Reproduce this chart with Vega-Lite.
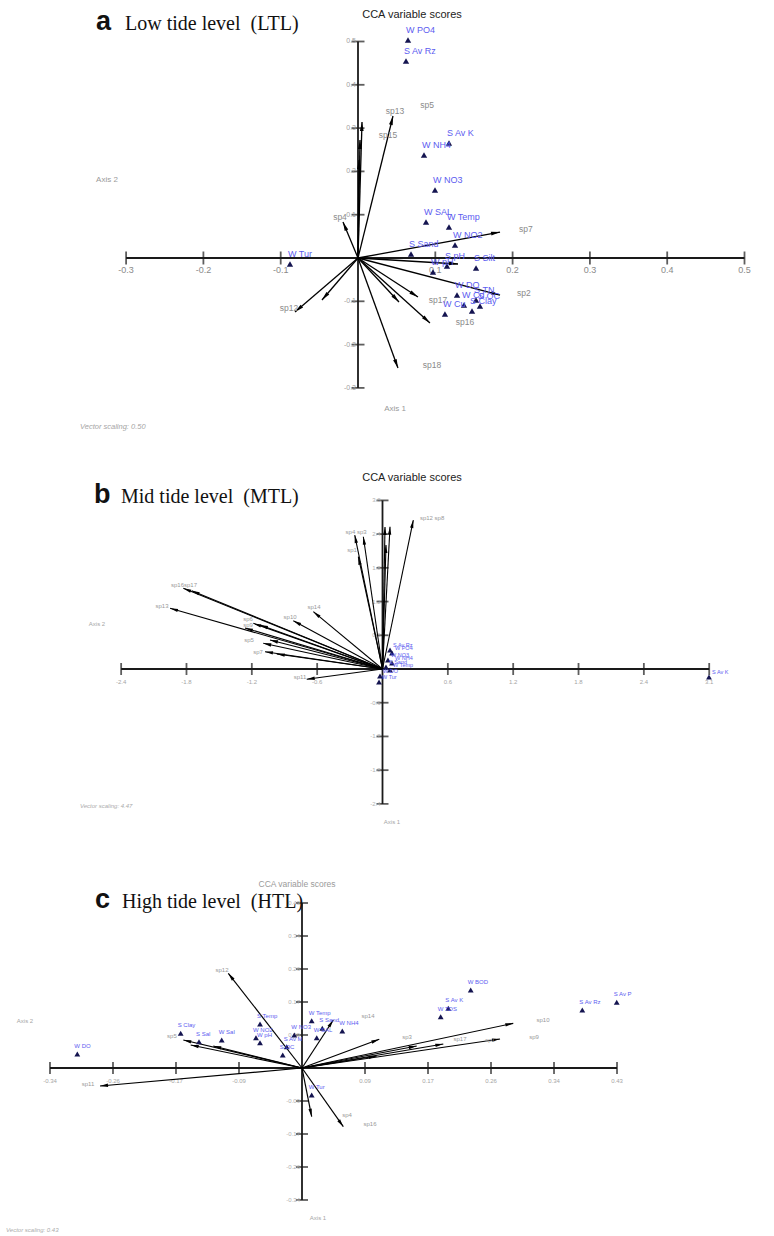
{
  "$schema": "https://vega.github.io/schema/vega-lite/v6.json",
  "padding": 0,
  "spacing": 0,
  "bounds": "flush",
  "background": "white",
  "config": {"view": {"stroke": null}, "text": {"font": "Liberation Sans"}},
  "datasets": {
    "a_xt": [{"x":-0.3,"y":0,"lab":"-0.3"},{"x":-0.2,"y":0,"lab":"-0.2"},{"x":-0.1,"y":0,"lab":"-0.1"},{"x":0.1,"y":0,"lab":"0.1"},{"x":0.2,"y":0,"lab":"0.2"},{"x":0.3,"y":0,"lab":"0.3"},{"x":0.4,"y":0,"lab":"0.4"},{"x":0.5,"y":0,"lab":"0.5"}],
    "a_yt": [{"x":0,"y":-0.3,"lab":"-0.3"},{"x":0,"y":-0.2,"lab":"-0.2"},{"x":0,"y":-0.1,"lab":"-0.1"},{"x":0,"y":0.1,"lab":"0.1"},{"x":0,"y":0.2,"lab":"0.2"},{"x":0,"y":0.3,"lab":"0.3"},{"x":0,"y":0.4,"lab":"0.4"},{"x":0,"y":0.5,"lab":"0.5"}],
    "a_pts": [
      {"n":"W PO4","x":0.0647,"y":0.5035},{"n":"S Av Rz","x":0.0621,"y":0.455},{"n":"S Av K","x":0.1177,"y":0.2656},
      {"n":"W NH4","x":0.0854,"y":0.2379},{"n":"W NO3","x":0.0996,"y":0.157},{"n":"W SAL","x":0.088,"y":0.0831},
      {"n":"W Temp","x":0.1177,"y":0.0716},{"n":"W NO2","x":0.1255,"y":0.03},{"n":"S Sand","x":0.0686,"y":0.0092},
      {"n":"W Tur","x":-0.088,"y":-0.0139},{"n":"S pH","x":0.1151,"y":-0.0185},{"n":"W pH","x":0.097,"y":-0.0323},
      {"n":"S Silt","x":0.1527,"y":-0.0231},{"n":"W DO","x":0.1281,"y":-0.0855},{"n":"W Cd","x":0.1371,"y":-0.1085},
      {"n":"S Clay","x":0.1475,"y":-0.1224},{"n":"S OC","x":0.1578,"y":-0.1109},{"n":"S TN","x":0.1527,"y":-0.097},
      {"n":"W Cu","x":0.1125,"y":-0.1293}],
    "a_sp": [
      {"s":"sp13","x":0.0453,"y":0.328},{"s":"sp5","x":0.0052,"y":0.314},{"s":"sp15","x":0.0026,"y":0.2725},
      {"s":"sp6","x":0.0013,"y":0.2263},{"s":"sp4","x":-0.0194,"y":0.0831},{"s":"sp7","x":0.1837,"y":0.06},
      {"s":"sp9","x":0.1294,"y":-0.0139},{"s":"sp2","x":0.1837,"y":-0.0855},{"s":"sp17","x":0.0776,"y":-0.0901},
      {"s":"sp10","x":0.053,"y":-0.1016},{"s":"sp16","x":0.0931,"y":-0.1501},{"s":"sp18","x":0.0517,"y":-0.254},
      {"s":"sp12","x":-0.0815,"y":-0.1247},{"s":"sp11","x":-0.0466,"y":-0.097}],
    "a_lab": [
      {"s":"sp13","x":0.0479,"y":0.3395},{"s":"sp5","x":0.0893,"y":0.3533},{"s":"sp15","x":0.0388,"y":0.2841},
      {"s":"sp4","x":-0.0233,"y":0.0947},{"s":"sp7","x":0.2173,"y":0.067},{"s":"sp2","x":0.2147,"y":-0.0808},
      {"s":"sp17","x":0.1035,"y":-0.097},{"s":"sp16","x":0.1384,"y":-0.1478},{"s":"sp18","x":0.0957,"y":-0.2471},
      {"s":"sp12","x":-0.0893,"y":-0.1155}],
    "b_xt": [{"x":-2.4,"y":0,"lab":"-2.4"},{"x":-1.8,"y":0,"lab":"-1.8"},{"x":-1.2,"y":0,"lab":"-1.2"},{"x":-0.6,"y":0,"lab":"-0.6"},{"x":0.6,"y":0,"lab":"0.6"},{"x":1.2,"y":0,"lab":"1.2"},{"x":1.8,"y":0,"lab":"1.8"},{"x":2.4,"y":0,"lab":"2.4"},{"x":3.0,"y":0,"lab":"3.1"}],
    "b_yt": [{"x":0,"y":-2.4,"lab":"-2.4"},{"x":0,"y":-1.8,"lab":"-1.8"},{"x":0,"y":-1.2,"lab":"-1.2"},{"x":0,"y":-0.6,"lab":"-0.6"},{"x":0,"y":0.6,"lab":"0.6"},{"x":0,"y":1.2,"lab":"1.2"},{"x":0,"y":1.8,"lab":"1.8"},{"x":0,"y":2.4,"lab":"2.4"},{"x":0,"y":3.0,"lab":"3.0"}],
    "b_pts": [
      {"n":"S Av K","x":2.998,"y":-0.142},{"n":"S Av Rz","x":0.069,"y":0.338},{"n":"W PO4","x":0.087,"y":0.285},
      {"n":"W NO3","x":0.05,"y":0.16},{"n":"W NH4","x":0.087,"y":0.107},{"n":"S Sand","x":0.032,"y":0.036},
      {"n":"W Temp","x":0.069,"y":-0.018},{"n":"W DO","x":-0.023,"y":-0.125},{"n":"W Tur","x":-0.032,"y":-0.231}],
    "b_sp": [
      {"s":"sp4","x":-0.255,"y":2.384},{"s":"sp3","x":-0.176,"y":2.354},{"s":"sp2","x":0.069,"y":2.532},
      {"s":"sp15","x":0.023,"y":2.527},{"s":"sp18","x":0.032,"y":2.206},{"s":"sp12","x":0.283,"y":2.651},
      {"s":"sp1","x":-0.222,"y":1.998},{"s":"sp16","x":-1.829,"y":1.436},{"s":"sp17","x":-1.752,"y":1.393},
      {"s":"sp13","x":-1.951,"y":1.08},{"s":"sp6","x":-1.186,"y":0.813},{"s":"sp9","x":-1.125,"y":0.783},
      {"s":"sp10","x":-0.819,"y":0.859},{"s":"sp14","x":-0.635,"y":1.02},{"s":"sp5","x":-1.095,"y":0.457},
      {"s":"sp7","x":-1.079,"y":0.308},{"s":"sp8","x":-0.971,"y":0.267},{"s":"sp11","x":-0.696,"y":-0.183},
      {"s":"sp19","x":-1.263,"y":0.73},{"s":"sp20","x":-1.033,"y":0.516}],
    "b_lab": [
      {"s":"sp4 sp3","x":-0.243,"y":2.443},{"s":"sp12  sp8","x":0.455,"y":2.687},{"s":"sp1","x":-0.28,"y":2.117},
      {"s":"sp16sp17","x":-1.823,"y":1.495},{"s":"sp13","x":-2.025,"y":1.121},{"s":"sp14","x":-0.629,"y":1.103},
      {"s":"sp6","x":-1.235,"y":0.89},{"s":"sp9","x":-1.235,"y":0.783},{"s":"sp10","x":-0.849,"y":0.925},
      {"s":"sp5","x":-1.226,"y":0.516},{"s":"sp7","x":-1.143,"y":0.302},{"s":"sp11","x":-0.758,"y":-0.142}],
    "c_xt": [{"x":-0.344,"y":0,"lab":"-0.34"},{"x":-0.258,"y":0,"lab":"-0.26"},{"x":-0.172,"y":0,"lab":"-0.17"},{"x":-0.086,"y":0,"lab":"-0.09"},{"x":0.086,"y":0,"lab":"0.09"},{"x":0.172,"y":0,"lab":"0.17"},{"x":0.258,"y":0,"lab":"0.26"},{"x":0.344,"y":0,"lab":"0.34"},{"x":0.43,"y":0,"lab":"0.43"}],
    "c_yt": [{"x":0,"y":-0.344,"lab":"-0.34"},{"x":0,"y":-0.258,"lab":"-0.26"},{"x":0,"y":-0.172,"lab":"-0.17"},{"x":0,"y":-0.086,"lab":"-0.09"},{"x":0,"y":0.086,"lab":"0.09"},{"x":0,"y":0.172,"lab":"0.17"},{"x":0,"y":0.258,"lab":"0.26"},{"x":0,"y":0.344,"lab":"0.34"},{"x":0,"y":0.43,"lab":"0.43"}],
    "c_pts": [
      {"n":"W DO","x":-0.3067,"y":0.0365},{"n":"S Clay","x":-0.1656,"y":0.0904},{"n":"S Sal","x":-0.1406,"y":0.0685},
      {"n":"W Sal","x":-0.1096,"y":0.073},{"n":"S Temp","x":-0.0573,"y":0.1147},{"n":"W NO2","x":-0.0628,"y":0.079},
      {"n":"W pH","x":-0.0573,"y":0.0659},{"n":"S OC","x":-0.0263,"y":0.0339},{"n":"S Av M","x":-0.0209,"y":0.0555},
      {"n":"W NO3","x":-0.0105,"y":0.086},{"n":"W Temp","x":0.0132,"y":0.1233},{"n":"W SAL","x":0.0201,"y":0.079},
      {"n":"S Sand","x":0.0277,"y":0.1035},{"n":"W NH4","x":0.055,"y":0.0964},{"n":"W Tur","x":0.0132,"y":-0.0704},
      {"n":"W BOD","x":0.2303,"y":0.2033},{"n":"S Av K","x":0.1997,"y":0.1556},{"n":"W TDS","x":0.1893,"y":0.1337},
      {"n":"S Av Rz","x":0.3826,"y":0.1512},{"n":"S Av P","x":0.4296,"y":0.1712}],
    "c_sp": [
      {"s":"sp11","x":-0.2757,"y":-0.0469},{"s":"sp5","x":-0.162,"y":0.073},{"s":"sp6","x":-0.1519,"y":0.0599},
      {"s":"sp7","x":-0.1211,"y":0.0573},{"s":"sp12","x":-0.1006,"y":0.2468},{"s":"sp14","x":0.0427,"y":0.1251},
      {"s":"sp3","x":0.1055,"y":0.0748},{"s":"sp10","x":0.2884,"y":0.1165},{"s":"sp9","x":0.2703,"y":0.0756},
      {"s":"sp17","x":0.1566,"y":0.0573},{"s":"sp1","x":0.1929,"y":0.0625},{"s":"sp2","x":0.102,"y":0.0313},
      {"s":"sp16","x":0.0564,"y":-0.153},{"s":"sp4","x":0.0132,"y":-0.1269}],
    "c_lab": [
      {"s":"sp11","x":-0.2921,"y":-0.0417},{"s":"sp5","x":-0.1775,"y":0.0834},{"s":"sp12","x":-0.1092,"y":0.2554},
      {"s":"sp14","x":0.0901,"y":0.1355},{"s":"sp3","x":0.1433,"y":0.0808},{"s":"sp10","x":0.329,"y":0.1251},
      {"s":"sp9","x":0.3167,"y":0.0808},{"s":"sp17","x":0.2157,"y":0.0756},{"s":"sp1","x":0.2566,"y":0.073},
      {"s":"sp16","x":0.0928,"y":-0.1459},{"s":"sp4","x":0.0614,"y":-0.1225}]
  },
  "vconcat": [
    {
      "width": 774, "height": 445,
      "encoding": {
        "x": {"field": "x", "type": "quantitative", "scale": {"domain": [-0.46313, 0.53816], "nice": false, "zero": false}, "axis": null},
        "y": {"field": "y", "type": "quantitative", "scale": {"domain": [-0.43187, 0.59584], "nice": false, "zero": false}, "axis": null}
      },
      "layer": [
        {"data": {"values": [{"x":-0.3,"x2":0.5,"y":0,"y2":0},{"x":0,"x2":0,"y":-0.3,"y2":0.5}]},
         "mark": {"type": "rule", "strokeWidth": 1.8, "color": "#1a1a1a"},
         "encoding": {"x2": {"field": "x2"}, "y2": {"field": "y2"}}},
        {"data": {"name": "a_xt"}, "mark": {"type": "tick", "orient": "vertical", "size": 13, "thickness": 1.8, "color": "#1a1a1a"}},
        {"data": {"name": "a_xt"}, "mark": {"type": "text", "dy": 12, "fontSize": 9, "color": "#8a8a8a"}, "encoding": {"text": {"field": "lab"}}},
        {"data": {"name": "a_yt"}, "mark": {"type": "tick", "orient": "horizontal", "size": 13, "thickness": 1.8, "color": "#1a1a1a"}},
        {"data": {"name": "a_yt"}, "mark": {"type": "text", "align": "right", "dx": -2, "fontSize": 7, "color": "#a0a0a0"}, "encoding": {"text": {"field": "lab"}}},
        {"data": {"name": "a_sp"}, "mark": {"type": "rule", "strokeWidth": 1.3, "color": "#000"}, "encoding": {"x2": {"datum": 0}, "y2": {"datum": 0}}},
        {"data": {"name": "a_sp"}, "transform": [{"calculate": "atan2(datum.x*773, datum.y*433)*180/PI", "as": "ang"}],
         "mark": {"type": "point", "shape": "M0,0L0.42,2L-0.42,2Z", "filled": true, "size": 81, "color": "#000", "opacity": 1},
         "encoding": {"angle": {"field": "ang", "type": "quantitative", "scale": null}}},
        {"data": {"name": "a_lab"}, "mark": {"type": "text", "fontSize": 8.5, "color": "#8a8a8a"}, "encoding": {"text": {"field": "s"}}},
        {"data": {"name": "a_pts"}, "mark": {"type": "point", "shape": "triangle-up", "filled": true, "size": 40, "color": "#141450", "opacity": 1}},
        {"data": {"name": "a_pts"}, "mark": {"type": "text", "align": "left", "dx": -2, "dy": -10, "fontSize": 9, "color": "#5c5cf0"}, "encoding": {"text": {"field": "n"}}},
        {"data": {"values": [{"t": "a", "x": -0.3389, "y": 0.5266}]}, "mark": {"type": "text", "align": "left", "baseline": "alphabetic", "fontSize": 27, "fontWeight": "bold", "color": "#111"}, "encoding": {"text": {"field": "t"}}},
        {"data": {"values": [{"t": "Low tide level\u00a0\u00a0(LTL)", "x": -0.3014, "y": 0.5266}]}, "mark": {"type": "text", "align": "left", "baseline": "alphabetic", "fontSize": 20, "font": "Liberation Serif", "color": "#111"}, "encoding": {"text": {"field": "t"}}},
        {"data": {"values": [{"t": "CCA variable scores", "x": 0.0699, "y": 0.5543}]}, "mark": {"type": "text", "baseline": "alphabetic", "fontSize": 11, "color": "#222"}, "encoding": {"text": {"field": "t"}}},
        {"data": {"values": [{"t": "Axis 2", "x": -0.3247, "y": 0.1801}, {"t": "Axis 1", "x": 0.0479, "y": -0.3487}]}, "mark": {"type": "text", "fontSize": 8, "color": "#9a9a9a"}, "encoding": {"text": {"field": "t"}}},
        {"data": {"values": [{"t": "Vector scaling: 0.50", "x": -0.3596, "y": -0.3903}]}, "mark": {"type": "text", "align": "left", "fontSize": 7.5, "fontStyle": "italic", "color": "#a5a5a5"}, "encoding": {"text": {"field": "t"}}}
      ]
    },
    {
      "width": 774, "height": 390,
      "encoding": {
        "x": {"field": "x", "type": "quantitative", "scale": {"domain": [-3.5124, 3.595], "nice": false, "zero": false}, "axis": null},
        "y": {"field": "y", "type": "quantitative", "scale": {"domain": [-2.9537, 3.9858], "nice": false, "zero": false}, "axis": null}
      },
      "layer": [
        {"data": {"values": [{"x":-2.4,"x2":3.0,"y":0,"y2":0},{"x":0,"x2":0,"y":-2.4,"y2":3.0}]},
         "mark": {"type": "rule", "strokeWidth": 1.8, "color": "#1a1a1a"},
         "encoding": {"x2": {"field": "x2"}, "y2": {"field": "y2"}}},
        {"data": {"name": "b_xt"}, "mark": {"type": "tick", "orient": "vertical", "size": 12, "thickness": 1.8, "color": "#1a1a1a"}},
        {"data": {"name": "b_xt"}, "mark": {"type": "text", "dy": 13, "fontSize": 6, "color": "#a5a5a5"}, "encoding": {"text": {"field": "lab"}}},
        {"data": {"name": "b_yt"}, "mark": {"type": "tick", "orient": "horizontal", "size": 12, "thickness": 1.8, "color": "#1a1a1a"}},
        {"data": {"name": "b_yt"}, "mark": {"type": "text", "align": "right", "dx": -2, "fontSize": 6, "color": "#b0b0b0"}, "encoding": {"text": {"field": "lab"}}},
        {"data": {"name": "b_sp"}, "mark": {"type": "rule", "strokeWidth": 1.1, "color": "#000"}, "encoding": {"x2": {"datum": 0}, "y2": {"datum": 0}}},
        {"data": {"name": "b_sp"}, "transform": [{"calculate": "atan2(datum.x*108.9, datum.y*56.2)*180/PI", "as": "ang"}],
         "mark": {"type": "point", "shape": "M0,0L0.42,2L-0.42,2Z", "filled": true, "size": 64, "color": "#000", "opacity": 1},
         "encoding": {"angle": {"field": "ang", "type": "quantitative", "scale": null}}},
        {"data": {"name": "b_lab"}, "mark": {"type": "text", "fontSize": 6, "color": "#999"}, "encoding": {"text": {"field": "s"}}},
        {"data": {"name": "b_pts"}, "mark": {"type": "point", "shape": "triangle-up", "filled": true, "size": 34, "color": "#141450", "opacity": 1}},
        {"data": {"name": "b_pts"}, "mark": {"type": "text", "align": "left", "dx": 3, "dy": -5, "fontSize": 5.5, "color": "#5c5cf0"}, "encoding": {"text": {"field": "n"}}},
        {"data": {"values": [{"t": "b", "x": -2.649, "y": 2.954}]}, "mark": {"type": "text", "align": "left", "baseline": "alphabetic", "fontSize": 27, "fontWeight": "bold", "color": "#111"}, "encoding": {"text": {"field": "t"}}},
        {"data": {"values": [{"t": "Mid tide level\u00a0\u00a0(MTL)", "x": -2.401, "y": 2.954}]}, "mark": {"type": "text", "align": "left", "baseline": "alphabetic", "fontSize": 20, "font": "Liberation Serif", "color": "#111"}, "encoding": {"text": {"field": "t"}}},
        {"data": {"values": [{"t": "CCA variable scores", "x": 0.271, "y": 3.345}]}, "mark": {"type": "text", "baseline": "alphabetic", "fontSize": 11, "color": "#222"}, "encoding": {"text": {"field": "t"}}},
        {"data": {"values": [{"t": "Axis 2", "x": -2.622, "y": 0.801}, {"t": "Axis 1", "x": 0.087, "y": -2.722}]}, "mark": {"type": "text", "fontSize": 6, "color": "#a5a5a5"}, "encoding": {"text": {"field": "t"}}},
        {"data": {"values": [{"t": "Vector scaling: 4.47", "x": -2.778, "y": -2.438}]}, "mark": {"type": "text", "align": "left", "fontSize": 6, "fontStyle": "italic", "color": "#ababab"}, "encoding": {"text": {"field": "t"}}}
      ]
    },
    {
      "width": 774, "height": 401,
      "encoding": {
        "x": {"field": "x", "type": "quantitative", "scale": {"domain": [-0.41223, 0.64428], "nice": false, "zero": false}, "axis": null},
        "y": {"field": "y", "type": "quantitative", "scale": {"domain": [-0.43784, 0.60724], "nice": false, "zero": false}, "axis": null}
      },
      "layer": [
        {"data": {"values": [{"x":-0.344,"x2":0.43,"y":0,"y2":0},{"x":0,"x2":0,"y":-0.344,"y2":0.43}]},
         "mark": {"type": "rule", "strokeWidth": 1.8, "color": "#1a1a1a"},
         "encoding": {"x2": {"field": "x2"}, "y2": {"field": "y2"}}},
        {"data": {"name": "c_xt"}, "mark": {"type": "tick", "orient": "vertical", "size": 12, "thickness": 1.8, "color": "#1a1a1a"}},
        {"data": {"name": "c_xt"}, "mark": {"type": "text", "dy": 13, "fontSize": 6, "color": "#a5a5a5"}, "encoding": {"text": {"field": "lab"}}},
        {"data": {"name": "c_yt"}, "mark": {"type": "tick", "orient": "horizontal", "size": 12, "thickness": 1.8, "color": "#1a1a1a"}},
        {"data": {"name": "c_yt"}, "mark": {"type": "text", "align": "right", "dx": -2, "fontSize": 6, "color": "#b0b0b0"}, "encoding": {"text": {"field": "lab"}}},
        {"data": {"name": "c_sp"}, "mark": {"type": "rule", "strokeWidth": 1.2, "color": "#000"}, "encoding": {"x2": {"datum": 0}, "y2": {"datum": 0}}},
        {"data": {"name": "c_sp"}, "transform": [{"calculate": "atan2(datum.x*732.6, datum.y*383.7)*180/PI", "as": "ang"}],
         "mark": {"type": "point", "shape": "M0,0L0.42,2L-0.42,2Z", "filled": true, "size": 64, "color": "#000", "opacity": 1},
         "encoding": {"angle": {"field": "ang", "type": "quantitative", "scale": null}}},
        {"data": {"name": "c_lab"}, "mark": {"type": "text", "fontSize": 6, "color": "#999"}, "encoding": {"text": {"field": "s"}}},
        {"data": {"name": "c_pts"}, "mark": {"type": "point", "shape": "triangle-up", "filled": true, "size": 34, "color": "#141450", "opacity": 1}},
        {"data": {"name": "c_pts"}, "mark": {"type": "text", "align": "left", "dx": -3, "dy": -8, "fontSize": 6, "color": "#5c5cf0"}, "encoding": {"text": {"field": "n"}}},
        {"data": {"values": [{"t": "c", "x": -0.2826, "y": 0.417}]}, "mark": {"type": "text", "align": "left", "baseline": "alphabetic", "fontSize": 27, "fontWeight": "bold", "color": "#111"}, "encoding": {"text": {"field": "t"}}},
        {"data": {"values": [{"t": "High tide level\u00a0\u00a0(HTL)", "x": -0.2457, "y": 0.417}]}, "mark": {"type": "text", "align": "left", "baseline": "alphabetic", "fontSize": 20, "font": "Liberation Serif", "color": "#111"}, "encoding": {"text": {"field": "t"}}},
        {"data": {"values": [{"t": "CCA variable scores", "x": -0.0068, "y": 0.4717}]}, "mark": {"type": "text", "baseline": "alphabetic", "fontSize": 8.5, "color": "#9a9a9a"}, "encoding": {"text": {"field": "t"}}},
        {"data": {"values": [{"t": "Axis 2", "x": -0.3781, "y": 0.1225}, {"t": "Axis 1", "x": 0.0218, "y": -0.3909}]}, "mark": {"type": "text", "fontSize": 6, "color": "#a5a5a5"}, "encoding": {"text": {"field": "t"}}},
        {"data": {"values": [{"t": "Vector scaling: 0.43", "x": -0.404, "y": -0.4222}]}, "mark": {"type": "text", "align": "left", "fontSize": 6, "fontStyle": "italic", "color": "#ababab"}, "encoding": {"text": {"field": "t"}}}
      ]
    }
  ]
}
